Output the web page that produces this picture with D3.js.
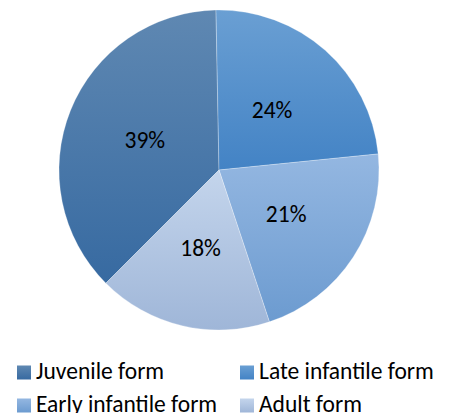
<!DOCTYPE html>
<html>
<head>
<meta charset="utf-8">
<script src="https://cdn.jsdelivr.net/npm/d3@7"></script>
<style>
  html, body { margin: 0; padding: 0; background: #ffffff; }
  svg { display: block; }
  text { font-family: Calibri, Carlito, "Liberation Sans", Arial, sans-serif; fill: #000000; }
</style>
</head>
<body>
<div id="chart"></div>
<script>

// slice shares (percent of the circle)
var categories = ['Juvenile form', 'Late infantile form', 'Early infantile form', 'Adult form'];
var shares = [37.2, 23.7, 21.5, 17.6];
// the labels as printed on the slices
var sliceLabels = ['39%', '24%', '21%', '18%'];

// gradient stops per slice, top colour then bottom colour
var topColors = ['#5f88b2', '#6a9fd3', '#94b7e1', '#c4d5ec'];
var bottomColors = ['#376aa1', '#4383c5', '#6c9bd0', '#9fb6d8'];

var width = 453,
    height = 413,
    cx = 219,
    cy = 170,
    radius = 160;

var svg = d3.select('#chart').append('svg')
    .attr('width', width)
    .attr('height', height);

var defs = svg.append('defs');

categories.forEach(function ( c, i ) {

    var grad = defs.append('linearGradient')
        .attr('id', 'grad' + i)
        .attr('x1', 0).attr('y1', 0)
        .attr('x2', 0).attr('y2', 1);

    grad.append('stop').attr('offset', '0%').attr('stop-color', topColors[ i ]);
    grad.append('stop').attr('offset', '100%').attr('stop-color', bottomColors[ i ]);

});

// first slice (juvenile) starts low on the left, as in the picture
var start = 225 * Math.PI / 180;

var pie = d3.pie()
    .sort( null )
    .value( function ( d ) { return d; })
    .startAngle( start )
    .endAngle( start + 2 * Math.PI );

var arc = d3.arc()
    .innerRadius( 0 )
    .outerRadius( radius );

var labelArc = d3.arc()
    .innerRadius( radius / 2 )
    .outerRadius( radius / 2 );

var g = svg.append('g')
    .attr('transform', 'translate(' + cx + ',' + cy + ')');

var arcs = pie( shares );

g.selectAll('path.slice')
    .data( arcs )
    .enter().append('path')
    .attr('class', 'slice')
    .attr('d', arc)
    .attr('fill', function ( d, i ) { return 'url(#grad' + i + ')'; })
    .attr('stroke', 'rgba(255,255,255,0.45)')
    .attr('stroke-width', 0.6);

g.selectAll('text.lbl')
    .data( arcs )
    .enter().append('text')
    .attr('class', 'lbl')
    .attr('transform', function ( d ) {
        var c = labelArc.centroid( d );
        return 'translate(' + c[0] + ',' + c[1] + ')';
    })
    .attr('text-anchor', 'middle')
    .attr('dy', '0.35em')
    .style('font-size', '23.5px')
    .text( function ( d, i ) { return sliceLabels[ i ]; });

// legend, two columns (second row is cut by the bottom edge, as in the source)
var legendCols = [17, 240];
var legendRows = [365.5, 398.5];
var box = 14;

var legend = svg.selectAll('g.legend')
    .data( categories )
    .enter().append('g')
    .attr('class', 'legend')
    .attr('transform', function ( d, i ) {
        return 'translate(' + legendCols[ i % 2 ] + ',' + legendRows[ Math.floor( i / 2 ) ] + ')';
    });

legend.append('rect')
    .attr('width', box)
    .attr('height', box)
    .attr('fill', function ( d, i ) { return 'url(#grad' + i + ')'; });

legend.append('text')
    .attr('x', box + 5)
    .attr('y', 13)
    .style('font-size', '23.5px')
    .text( function ( d ) { return d; });

</script>
</body>
</html>
